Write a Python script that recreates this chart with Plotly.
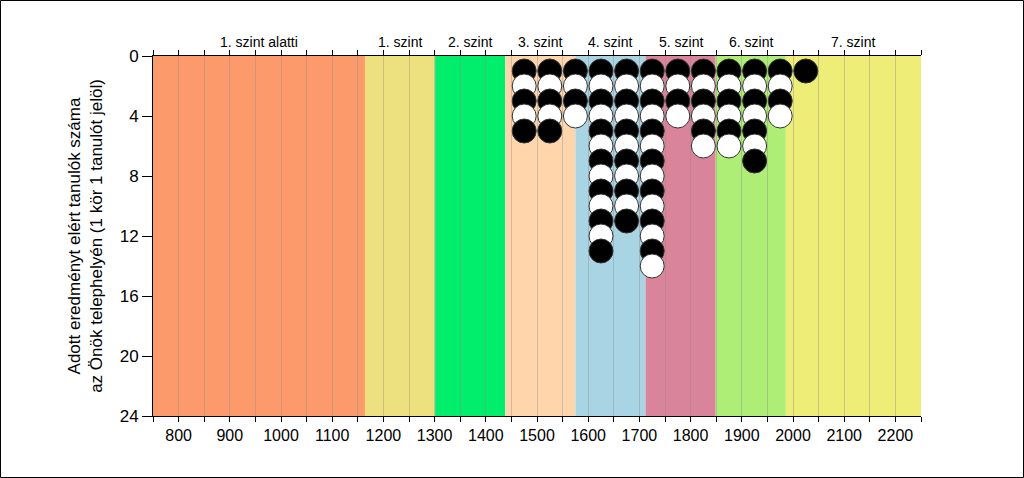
import plotly.graph_objects as go

# Level bands (score boundaries) and labels
level_names = ["1. szint alatti", "1. szint", "2. szint", "3. szint",
               "4. szint", "5. szint", "6. szint", "7. szint"]
level_edges = [750, 1164, 1301, 1438, 1575, 1712, 1849, 1986, 2250]
level_colors = ["#FD9A6C", "#EDE07E", "#00EE6C", "#FFD6AC",
                "#A9D4E3", "#D9849A", "#AEEE76", "#EDED78"]

# Student counts per score column
score_cols = [1475, 1525, 1575, 1625, 1675, 1725, 1775, 1825, 1875, 1925, 1975, 2025]
counts = [5, 5, 4, 13, 11, 14, 4, 6, 6, 7, 4, 1]

x_tickvals = list(range(750, 2251, 50))
x_ticktext = [str(v) if (v % 100 == 0 and 800 <= v <= 2200) else "" for v in x_tickvals]
y_tickvals = [0, 4, 8, 12, 16, 20, 24]

xs, ys, fills = [], [], []
for c, n in zip(score_cols, counts):
    for k in range(1, n + 1):
        xs.append(c)
        ys.append(k)
        fills.append("#000000" if k % 2 == 1 else "#FFFFFF")

fig = go.Figure()
fig.add_trace(go.Scatter(
    x=xs, y=ys, mode="markers",
    marker=dict(size=24, color=fills, line=dict(color="#333333", width=1)),
    showlegend=False, hoverinfo="x+y",
))

shapes = []
for i, col in enumerate(level_colors):
    shapes.append(dict(type="rect", xref="x", yref="y",
                       x0=level_edges[i], x1=level_edges[i + 1], y0=0, y1=24,
                       fillcolor=col, line=dict(width=0), layer="below"))
# outer frame around the whole image
shapes.append(dict(type="rect", xref="paper", yref="paper",
                   x0=(0.5 - 153) / 768, x1=(1023.5 - 153) / 768,
                   y0=(416 - 477.5) / 360, y1=(416 - 0.5) / 360,
                   line=dict(color="#000000", width=1), fillcolor="rgba(0,0,0,0)",
                   layer="above"))

annotations = []
for i, name in enumerate(level_names):
    annotations.append(dict(x=(level_edges[i] + level_edges[i + 1]) / 2, y=1.0,
                            xref="x", yref="paper", yshift=4, yanchor="bottom",
                            text=name, showarrow=False,
                            font=dict(family="Liberation Sans, Arial", size=14, color="#000")))

fig.update_layout(
    width=1024, height=478,
    margin=dict(l=153, r=103, t=56, b=62),
    paper_bgcolor="white", plot_bgcolor="white",
    shapes=shapes, annotations=annotations,
    font=dict(family="Liberation Sans, Arial", color="#000"),
    xaxis=dict(range=[750, 2250], tickvals=x_tickvals, ticktext=x_ticktext,
               ticks="outside", ticklen=5, tickcolor="#000", showline=True,
               linecolor="#000", linewidth=1, mirror="ticks",
               showgrid=True, gridcolor="rgba(140,140,140,0.4)", gridwidth=1,
               zeroline=False, tickfont=dict(size=16)),
    yaxis=dict(range=[24, 0], tickvals=y_tickvals, ticks="outside", ticklen=10,
               tickcolor="#000", showline=True, linecolor="#000", linewidth=1,
               showgrid=False, zeroline=False, tickfont=dict(size=17),
               title=dict(text="Adott eredményt elért tanulók száma<br>az Önök telephelyén (1 kör 1 tanulót jelöl)",
                          font=dict(size=17), standoff=12)),
)

fig.write_html("out.html")
